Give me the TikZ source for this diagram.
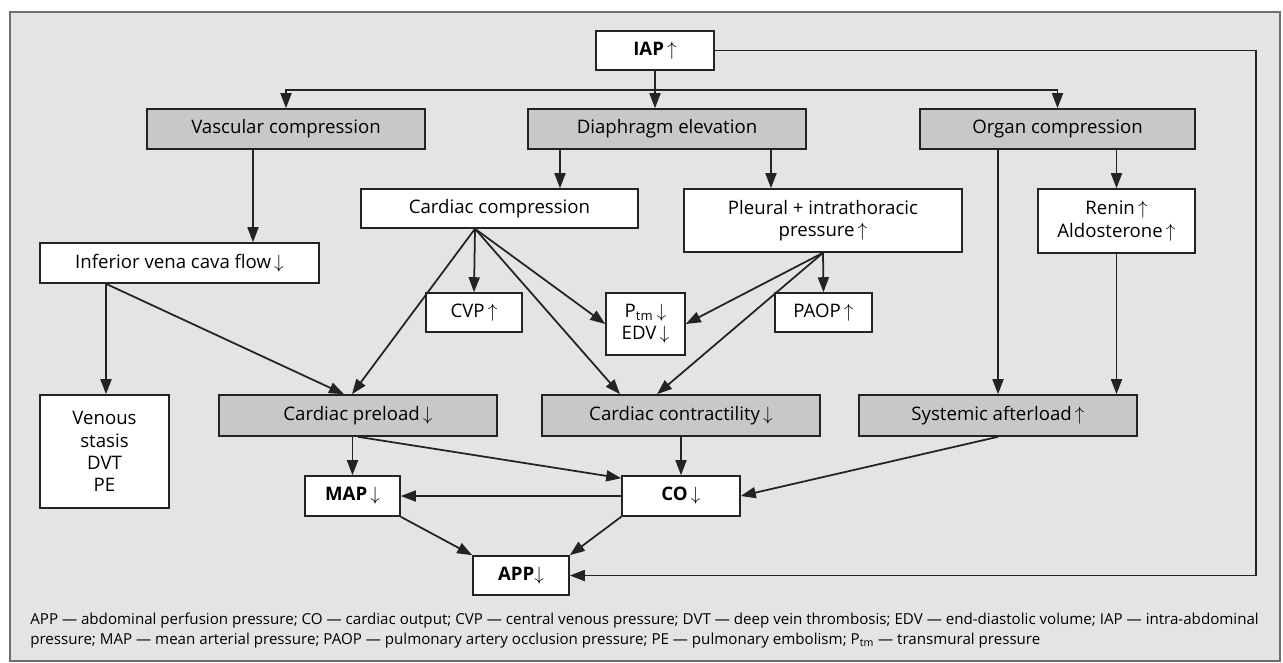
\documentclass[tikz,border=0pt]{standalone}
\usepackage{fontspec}
\setmainfont{Open Sans}
\usetikzlibrary{arrows.meta,positioning,calc}
\definecolor{iahbg}{RGB}{228,228,228}
\definecolor{iahfill}{RGB}{200,200,200}
\definecolor{iahline}{RGB}{35,35,35}
\definecolor{iahframe}{RGB}{110,110,110}
\newcommand{\incr}{\,$\uparrow$}
\newcommand{\decr}{\,$\downarrow$}

\begin{document}
\begin{tikzpicture}[
  iahbox/.style={draw=iahline,fill=white,line width=0.9pt,minimum width=5.56cm,minimum height=0.8cm,
    align=center,font=\fontsize{10.6}{12.6}\selectfont,inner sep=2pt},
  iahgray/.style={iahbox,fill=iahfill},
  iahsmall/.style={iahbox,minimum width=1.92cm,minimum height=0.78cm},
  iaharrow/.style={-{Triangle[length=0.3cm,width=0.22cm]},line width=1pt,draw=iahline}
]
  \useasboundingbox (0,0) rectangle (25.66,-13.24);
  % Frame
  \draw[draw=iahframe,fill=iahbg,line width=1.2pt] (0.2,-0.24) rectangle (25.6,-13.22);
  % Top
  \node[iahsmall,minimum width=2.36cm] (iap) at (13.10,-1.01) {\textbf{IAP}\incr};
  % Row 1: mechanisms
  \node[iahgray] (vasc) at (5.72,-2.58) {Vascular compression};
  \node[iahgray] (diaph) at (13.34,-2.58) {Diaphragm elevation};
  \node[iahgray,minimum width=5.50cm] (organ) at (21.15,-2.58) {Organ compression};
  % Row 2
  \node[iahbox,minimum width=5.54cm,minimum height=0.78cm] (cardcomp) at (9.99,-4.17) {Cardiac compression};
  \node[iahbox,minimum height=1.26cm] (pleural) at (16.46,-4.41) {Pleural + intrathoracic\\pressure\incr};
  \node[iahbox,minimum width=3.14cm,minimum height=1.28cm] (renin) at (22.33,-4.42) {Renin\incr\\Aldosterone\incr};
  \node[iahbox,minimum width=5.58cm] (ivc) at (3.59,-5.26) {Inferior vena cava flow\decr};
  % Row 3: small values
  \node[iahsmall] (cvp) at (9.48,-6.25) {CVP\incr};
  \node[iahsmall,minimum width=1.58cm,minimum height=1.24cm] (ptm) at (12.91,-6.48) {P\textsubscript{tm}\decr\\EDV\decr};
  \node[iahsmall,minimum width=1.94cm] (paop) at (16.47,-6.25) {PAOP\incr};
  % Row 4: effects
  \node[iahbox,minimum width=2.58cm,minimum height=2.26cm] (venous) at (2.09,-9.03) {Venous\\stasis\\DVT\\PE};
  \node[iahgray,minimum height=0.82cm] (preload) at (7.16,-8.31) {Cardiac preload\decr};
  \node[iahgray,minimum height=0.82cm] (contr) at (13.62,-8.31) {Cardiac contractility\decr};
  \node[iahgray,minimum height=0.82cm] (sysaft) at (19.96,-8.31) {Systemic afterload\incr};
  % Row 5: outcome
  \node[iahsmall,minimum width=1.90cm,minimum height=0.80cm] (map) at (7.05,-9.92) {\textbf{MAP}\decr};
  \node[iahsmall,minimum width=2.36cm,minimum height=0.80cm] (co) at (13.62,-9.92) {\textbf{CO}\decr};
  \node[iahsmall] (app) at (10.42,-11.51) {\textbf{APP}$\downarrow$};
  % Legend
  \node[anchor=north west,align=left,inner sep=0pt,font=\fontsize{8.6}{11.4}\selectfont] (legend) at (0.6,-12.25)
    {APP — abdominal perfusion pressure; CO — cardiac output; CVP — central venous pressure; DVT — deep vein thrombosis; EDV — end-diastolic volume; IAP — intra-abdominal\\
     pressure; MAP — mean arterial pressure; PAOP — pulmonary artery occlusion pressure; PE — pulmonary embolism; P\textsubscript{tm} — transmural pressure};

  % Connectors from IAP
  \coordinate (split) at ($(iap.south)+(0,-0.38)$);
  \coordinate (rcorner) at (25.12,-1.01);
  \draw[iaharrow] (iap.south) -- (iap.south |- diaph.north);
  \draw[iaharrow] (split) -| (vasc.north);
  \draw[iaharrow] (split) -| (organ.north);
  \draw[iaharrow] (iap.east) -- (rcorner) |- (app.east);
  % Mechanisms
  \draw[iaharrow] ([xshift=-0.66cm]vasc.south) -- ([xshift=-0.66cm]vasc.south |- ivc.north);
  \draw[iaharrow] ([xshift=-2.14cm]diaph.south) -- ([xshift=-2.14cm]diaph.south |- cardcomp.north);
  \draw[iaharrow] ([xshift=2.08cm]diaph.south) -- ([xshift=2.08cm]diaph.south |- pleural.north);
  \draw[iaharrow] (renin.north |- organ.south) -- (renin.north);
  \draw[iaharrow] (sysaft.north |- organ.south) -- (sysaft.north);
  \draw[iaharrow] (renin.south) -- (renin.south |- sysaft.north);
  % Cardiac compression
  \coordinate (ccout) at ([xshift=-0.49cm]cardcomp.south);
  \draw[iaharrow] (ccout) -- (cvp.north);
  \draw[iaharrow] (ccout) -- (ptm.west);
  \draw[iaharrow] (ccout) -- ([xshift=-0.12cm]preload.north);
  \draw[iaharrow] (ccout) -- ([xshift=-1.22cm]contr.north);
  % Pleural pressure
  \draw[iaharrow] (pleural.south) -- (paop.north);
  \draw[iaharrow] (pleural.south) -- (ptm.east);
  \draw[iaharrow] (pleural.south) -- ([xshift=-0.48cm]contr.north);
  % Inferior vena cava
  \coordinate (ivcout) at ([xshift=-1.47cm]ivc.south);
  \draw[iaharrow] (ivcout) -- (ivcout |- venous.north);
  \draw[iaharrow] (ivcout) -- ([xshift=-0.28cm]preload.north);
  % Outcomes
  \draw[iaharrow] (map.north |- preload.south) -- (map.north);
  \draw[iaharrow] (preload.south) -- ([yshift=-0.06cm]co.north west);
  \draw[iaharrow] (contr.south) -- (co.north);
  \draw[iaharrow] (sysaft.south) -- (co.east);
  \draw[iaharrow] (co.west) -- (map.east);
  \draw[iaharrow] (map.south east) -- (app.north west);
  \draw[iaharrow] (co.south west) -- (app.north east);
\end{tikzpicture}
\end{document}
